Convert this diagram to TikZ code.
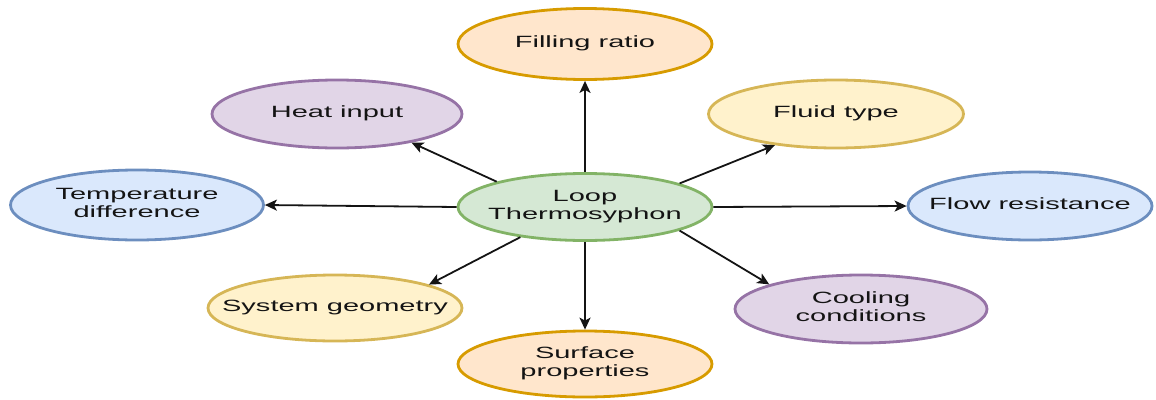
\documentclass[tikz,border=0pt]{standalone}
\usepackage{fontspec}
\setmainfont{Liberation Sans}
\usetikzlibrary{shapes.geometric,arrows.meta}

\definecolor{greenF}{HTML}{D5E8D4}\definecolor{greenD}{HTML}{82B366}
\definecolor{blueF}{HTML}{DAE8FC}\definecolor{blueD}{HTML}{6C8EBF}
\definecolor{purpF}{HTML}{E1D5E7}\definecolor{purpD}{HTML}{9673A6}
\definecolor{yellF}{HTML}{FFF2CC}\definecolor{yellD}{HTML}{D6B656}
\definecolor{oranF}{HTML}{FFE6CC}\definecolor{oranD}{HTML}{D79B00}
\definecolor{ink}{HTML}{141414}

% text is set wide, without taking part in the node size
\newcommand\widetext[1]{\makebox[0pt]{\scalebox{1.78}[1]{\begin{tabular}{@{}c@{}}#1\end{tabular}}}}

\begin{document}
\begin{tikzpicture}[x=1pt,y=-1pt,
  bubble/.style={ellipse, line width=2.8pt, inner sep=0pt,
    minimum width=254pt, minimum height=68pt, text=ink,
    font=\fontsize{16.3}{18}\selectfont},
  greenB/.style={bubble, fill=greenF, draw=greenD},
  blueB/.style={bubble, fill=blueF, draw=blueD},
  purpB/.style={bubble, fill=purpF, draw=purpD},
  yellB/.style={bubble, fill=yellF, draw=yellD},
  oranB/.style={bubble, fill=oranF, draw=oranD},
  link/.style={draw=ink, line width=1.8pt, -{Stealth[length=12pt,width=11pt,inset=3pt]}}]
\useasboundingbox (0,0) rectangle (1156,399);

\node[greenB, minimum height=67pt] (c) at (585,207) {\widetext{Loop\\Thermosyphon}};
\node[oranB, minimum height=71pt] (fill) at (585,44) {\widetext{Filling ratio}};
\node[purpB, minimum width=250pt] (heat) at (337,114) {\widetext{Heat input}};
\node[yellB, minimum width=255pt] (fluid) at (836,114) {\widetext{Fluid type}};
\node[blueB, minimum width=253pt, minimum height=70pt] (temp) at (137,205) {\widetext{Temperature\\difference}};
\node[blueB, minimum width=244pt] (flow) at (1030,206) {\widetext{Flow resistance}};
\node[yellB, minimum height=66pt] (geom) at (335,308) {\widetext{System geometry}};
\node[purpB, minimum width=252pt] (cool) at (861,309) {\widetext{Cooling\\conditions}};
\node[oranB, minimum height=66pt] (surf) at (585,364) {\widetext{Surface\\properties}};

\draw[link] (c.north) -- (fill.south);
\draw[link] (c.south) -- (surf.north);
\draw[link] (c.west) -- (temp.east);
\draw[link] (c.east) -- (flow.west);
\draw[link] (c.164) -- (heat.-21);
\draw[link] (c.14) -- (fluid.-153);
\draw[link] (c.205) -- (geom.14);
\draw[link] (c.-14) -- (cool.165);
\end{tikzpicture}
\end{document}
